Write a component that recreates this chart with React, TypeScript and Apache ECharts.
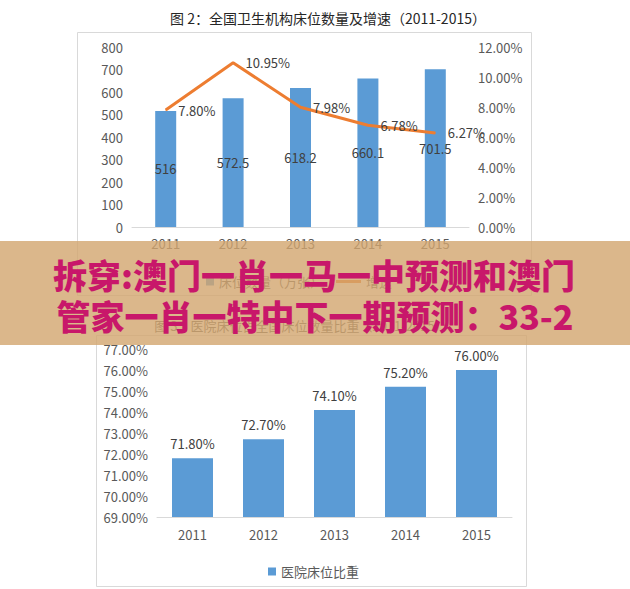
import React, { useEffect, useRef } from "react";
import * as echarts from "echarts";

// Years shared by both charts
const years = ["2011", "2012", "2013", "2014", "2015"];
// 全国卫生机构床位数量（万张）
const bedCounts = [516, 572.5, 618.2, 660.1, 701.5];
// 增速 (%)
const growthRates = [7.8, 10.95, 7.98, 6.78, 6.27];
// 医院床位比重 (%)
const hospitalShare = [71.8, 72.7, 74.1, 75.2, 76.0];

const BLUE = "#5B9BD5";
const ORANGE = "#ED7D31";
const AXIS_TEXT = "#595959";
const LABEL_TEXT = "#404040";
const GRID_LINE = "#D9D9D9";
const FONT = '"Noto Sans CJK SC", "Noto Sans", sans-serif';

const pct = (v: number) => `${v.toFixed(2)}%`;

export default function App() {
  const ref = useRef<HTMLDivElement>(null);

  useEffect(() => {
    if (!ref.current) return;
    const chart = echarts.init(ref.current, null, { renderer: "svg" });

    const axisLabel = { color: AXIS_TEXT, fontSize: 13, fontFamily: FONT };

    chart.setOption({
      animation: false,
      backgroundColor: "#fff",
      textStyle: { fontFamily: FONT },
      title: [
        {
          text: "图 2：全国卫生机构床位数量及增速（2011-2015）",
          left: 323,
          top: 6,
          textAlign: "center",
          textStyle: { fontSize: 14, fontWeight: "normal", color: "#262626", fontFamily: FONT },
        },
        {
          text: "图 3：医院床位占全国床位数量比重（2011-2015）",
          left: 296,
          top: 314,
          textAlign: "center",
          textStyle: { fontSize: 13, fontWeight: "normal", color: AXIS_TEXT, fontFamily: FONT },
        },
      ],
      legend: [
        {
          data: ["床位数量（万张）"],
          left: 201,
          top: 270,
          icon: "rect",
          itemWidth: 8,
          itemHeight: 8,
          selectedMode: false,
          textStyle: { color: AXIS_TEXT, fontSize: 13 },
        },
        {
          data: ["增速"],
          left: 331,
          top: 270,
          icon: "rect",
          itemWidth: 25,
          itemHeight: 3,
          selectedMode: false,
          textStyle: { color: AXIS_TEXT, fontSize: 13 },
        },
        {
          data: ["医院床位比重"],
          left: 263,
          top: 560,
          icon: "rect",
          itemWidth: 8,
          itemHeight: 8,
          selectedMode: false,
          textStyle: { color: AXIS_TEXT, fontSize: 13 },
        },
      ],
      grid: [
        { left: 132, right: 161, top: 47, height: 180 },
        { left: 157, right: 118, top: 349, height: 168 },
      ],
      xAxis: [
        {
          type: "category",
          gridIndex: 0,
          data: years,
          axisTick: { show: false },
          axisLine: { lineStyle: { color: GRID_LINE } },
          axisLabel: { ...axisLabel, margin: 10 },
        },
        {
          type: "category",
          gridIndex: 1,
          data: years,
          axisTick: { show: false },
          axisLine: { lineStyle: { color: GRID_LINE } },
          axisLabel: { ...axisLabel, margin: 11 },
        },
      ],
      yAxis: [
        {
          type: "value",
          gridIndex: 0,
          min: 0,
          max: 800,
          interval: 100,
          splitLine: { show: false },
          axisLine: { show: false },
          axisLabel: { ...axisLabel, margin: 9 },
        },
        {
          type: "value",
          gridIndex: 0,
          position: "right",
          min: 0,
          max: 12,
          interval: 2,
          splitLine: { show: false },
          axisLine: { show: false },
          axisLabel: { ...axisLabel, margin: 9, formatter: (v: number) => pct(v) },
        },
        {
          type: "value",
          gridIndex: 1,
          min: 69,
          max: 77,
          interval: 1,
          splitLine: { show: false },
          axisLine: { show: false },
          axisLabel: { ...axisLabel, margin: 9, formatter: (v: number) => pct(v) },
        },
      ],
      series: [
        {
          name: "床位数量（万张）",
          type: "bar",
          xAxisIndex: 0,
          yAxisIndex: 0,
          data: bedCounts,
          barWidth: 21,
          itemStyle: { color: BLUE },
          label: {
            show: true,
            position: "inside",
            color: LABEL_TEXT,
            fontSize: 13,
          },
        },
        {
          name: "增速",
          type: "line",
          xAxisIndex: 0,
          yAxisIndex: 1,
          data: growthRates,
          symbol: "circle",
          symbolSize: 1,
          showSymbol: true,
          lineStyle: { color: ORANGE, width: 3 },
          itemStyle: { color: ORANGE },
          z: 5,
          label: {
            show: true,
            position: "right",
            distance: 12,
            color: LABEL_TEXT,
            fontSize: 13,
            formatter: (p: any) => pct(p.value),
          },
        },
        {
          name: "医院床位比重",
          type: "bar",
          xAxisIndex: 1,
          yAxisIndex: 2,
          data: hospitalShare,
          barWidth: 41,
          itemStyle: { color: BLUE },
          label: {
            show: true,
            position: "top",
            distance: 8,
            color: LABEL_TEXT,
            fontSize: 13,
            formatter: (p: any) => pct(p.value),
          },
        },
      ],
      graphic: {
        elements: [
          {
            type: "rect",
            shape: { x: 77.5, y: 32.5, width: 454, height: 263 },
            style: { fill: "none", stroke: GRID_LINE, lineWidth: 1 },
            silent: true,
          },
          {
            type: "rect",
            shape: { x: 96.5, y: 335.5, width: 430, height: 251 },
            style: { fill: "none", stroke: GRID_LINE, lineWidth: 1 },
            silent: true,
          },
          {
            type: "rect",
            z: 100,
            shape: { x: 0, y: 241, width: 630, height: 104 },
            style: { fill: "rgba(210,165,110,0.8)" },
            silent: true,
          },
          {
            type: "text",
            z: 101,
            x: 314,
            y: 274,
            style: {
              text: "拆穿:澳门一肖一马一中预测和澳门",
              fill: "#C8176A",
              fontSize: 34,
              fontWeight: 900,
              fontFamily: FONT,
              textAlign: "center",
              textVerticalAlign: "middle",
            },
            silent: true,
          },
          {
            type: "text",
            z: 101,
            x: 315,
            y: 315,
            style: {
              text: "管家一肖一特中下一期预测：33-2",
              fill: "#C8176A",
              fontSize: 34,
              fontWeight: 900,
              fontFamily: FONT,
              textAlign: "center",
              textVerticalAlign: "middle",
            },
            silent: true,
          },
        ],
      },
    });

    return () => chart.dispose();
  }, []);

  return (
    <div
      ref={ref}
      style={{ position: "absolute", left: 0, top: 0, width: 630, height: 589 }}
    />
  );
}
